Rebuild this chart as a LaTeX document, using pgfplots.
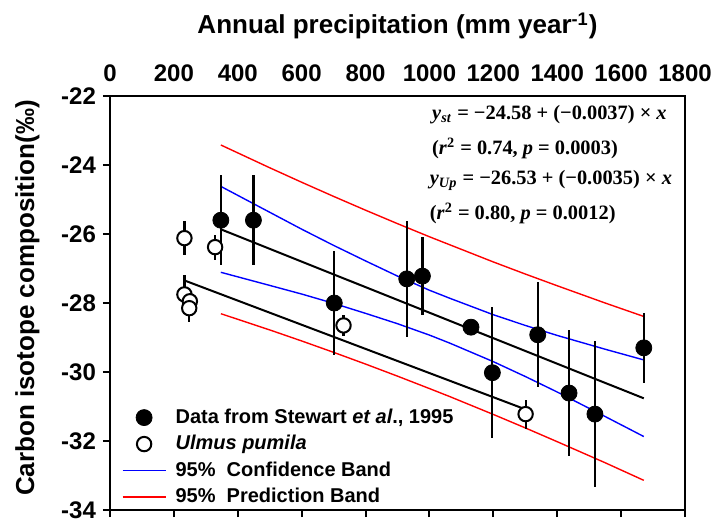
\documentclass[border=0pt]{standalone}
\usepackage{fontspec}
\setmainfont{Liberation Sans}
\newfontfamily\eqfont{Liberation Serif}
\usepackage{pgfplots}
\usepackage{pgfplotstable}
\pgfplotsset{compat=1.18}

\pgfplotstableread{
x y e
347 -25.60 1.30
449 -25.60 1.30
702 -28.00 1.50
929 -27.30 1.69
978 -27.22 1.12
1130 -28.70 0
1197 -30.02 1.90
1339 -28.92 1.52
1437 -30.61 1.82
1518 -31.22 2.12
1671 -29.30 1.02
}\stewart

\pgfplotstableread{
x y e
233 -26.12 0.50
329 -26.38 0.36
233 -27.75 0.55
250 -27.95 0.30
248 -28.15 0.40
731 -28.65 0.30
1301 -31.22 0.42
}\ulmus

\pgfplotstableread{
x uc lc up lp
347 -24.62 -27.11 -23.42 -28.31
500 -25.37 -27.49 -24.08 -28.78
600 -25.86 -27.74 -24.50 -29.10
700 -26.33 -28.01 -24.91 -29.43
800 -26.78 -28.30 -25.31 -29.77
900 -27.22 -28.60 -25.70 -30.12
1000 -27.63 -28.93 -26.08 -30.48
1063 -27.86 -29.16 -26.31 -30.71
1200 -28.34 -29.70 -26.81 -31.23
1300 -28.65 -30.13 -27.16 -31.62
1400 -28.94 -30.58 -27.50 -32.02
1550 -29.34 -31.29 -28.00 -32.63
1671 -29.65 -31.87 -28.39 -33.14
}\bands

\begin{document}
\begin{tikzpicture}
\begin{axis}[
  at={(0,0)}, anchor=south west,
  scale only axis, width=287.5pt, height=207pt,
  xmin=0, xmax=1800, ymin=-34, ymax=-22,
  xtick={0,200,...,1800},
  xticklabels={0,200,400,600,800,1000,1200,1400,1600,1800},
  ytick={-34,-32,...,-22},
  yticklabels={-34,-32,-30,-28,-26,-24,-22},
  xtick pos=bottom, xticklabel pos=top, ytick pos=left,
  tick align=outside, major tick length=3.5pt,
  axis line style={line width=1.1pt},
  tick style={line width=1pt, black},
  tick label style={font=\fontsize{12}{14}\selectfont\bfseries},
  xlabel={Annual precipitation (mm year\textsuperscript{-1})},
  ylabel={Carbon isotope composition(‰)},
  label style={font=\fontsize{13}{15}\selectfont\bfseries},
  xlabel style={at={(axis description cs:0.5,1.169)}, anchor=center},
  ylabel style={at={(axis description cs:-0.1435,0.512)}, anchor=center},
  legend style={at={(axis description cs:0.02,0.255)}, anchor=north west,
    draw=none, fill=none, inner sep=0pt,
    font=\fontsize{10}{12}\selectfont\bfseries, row sep=0.5pt,
    cells={anchor=west}},
  legend image code/.code={\path[draw=none, fill=none] (0pt,0pt) -- (24.5pt,0pt);\draw[mark repeat=2,mark phase=2,#1] plot coordinates {(0pt,0pt) (10.75pt,0pt) (21.5pt,0pt)};},
]
\addlegendimage{only marks, mark=*, mark size=4pt, black}
\addlegendimage{only marks, mark=*, mark size=3.6pt, mark options={fill=white, draw=black, line width=1pt}}
\addlegendimage{blue, line width=0.7pt}
\addlegendimage{red, line width=0.7pt}

% bands
\addplot[red, line width=0.7pt] table[x=x, y=up] {\bands};
\addplot[red, line width=0.7pt] table[x=x, y=lp] {\bands};
\addplot[blue, line width=0.7pt] table[x=x, y=uc] {\bands};
\addplot[blue, line width=0.7pt] table[x=x, y=lc] {\bands};
% regression lines
\addplot[black, line width=1pt] coordinates {(347,-25.864) (1671,-30.763)};
\addplot[black, line width=1pt] coordinates {(233,-27.346) (1301,-31.084)};

% data
\addplot[only marks, mark=*, mark size=4pt, black,
  error bars/.cd, y dir=both, y explicit, error mark=none,
  error bar style={line width=1.1pt, black}]
  table[x=x, y=y, y error=e] {\stewart};
\addplot[only marks, mark=*, mark size=3.6pt, mark options={fill=white, draw=black, line width=1pt},
  error bars/.cd, y dir=both, y explicit, error mark=none,
  error bar style={line width=1.1pt, black}]
  table[x=x, y=y, y error=e] {\ulmus};

\legend{{Data from Stewart \textit{et al}., 1995}, {\textit{Ulmus pumila}}, {95\%\ \ Confidence Band}, {95\%\ \ Prediction Band}}

\node[anchor=base west, font=\eqfont\fontsize{10.2}{12}\selectfont\bfseries] at (rel axis cs:0.548,0.943) {\textit{y}\textsubscript{\textit{st}} = −24.58 + (−0.0037) × \textit{x}};
\node[anchor=base west, font=\eqfont\fontsize{10.2}{12}\selectfont\bfseries] at (rel axis cs:0.548,0.858) {(\textit{r}\textsuperscript{2} = 0.74, \textit{p} = 0.0003)};
\node[anchor=base west, font=\eqfont\fontsize{10.2}{12}\selectfont\bfseries] at (rel axis cs:0.544,0.786) {\textit{y}\textsubscript{\textit{Up}} = −26.53 + (−0.0035) × \textit{x}};
\node[anchor=base west, font=\eqfont\fontsize{10.2}{12}\selectfont\bfseries] at (rel axis cs:0.544,0.701) {(\textit{r}\textsuperscript{2} = 0.80, \textit{p} = 0.0012)};
\end{axis}
\pgfresetboundingbox
\path[use as bounding box] (-55pt,-5.5pt) rectangle (302.5pt,255pt);
\end{tikzpicture}
\end{document}
